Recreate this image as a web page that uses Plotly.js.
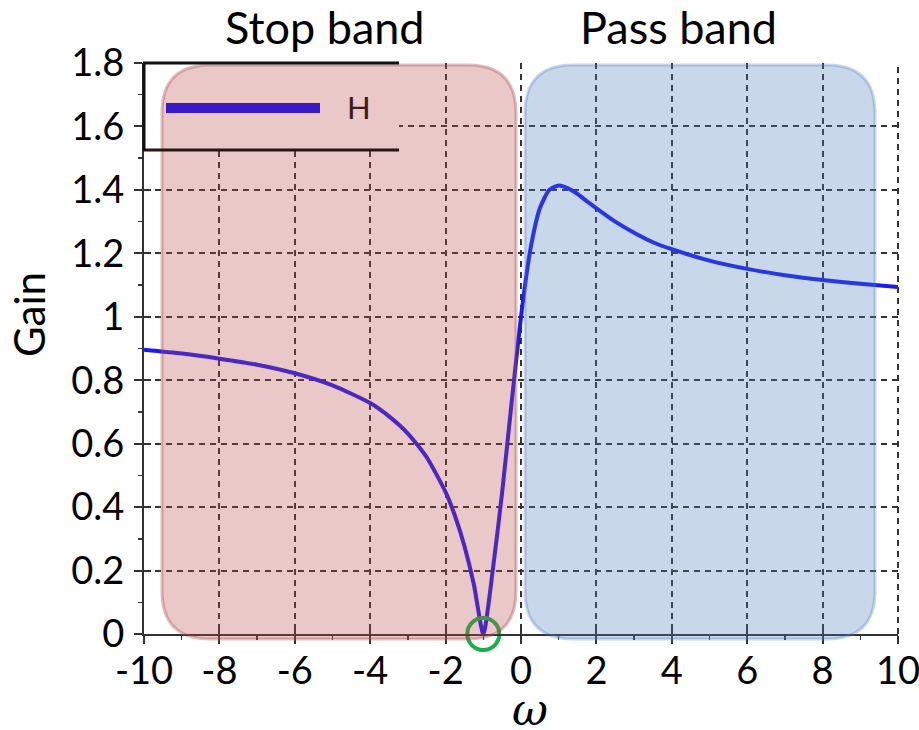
<!DOCTYPE html>
<html>
<head>
<meta charset="utf-8">
<script src="https://cdn.plot.ly/plotly-3.0.1.min.js"></script>
<style>html,body{margin:0;padding:0;background:#fff;}#chart{width:919px;height:730px;}</style>
</head>
<body>
<div id="chart"></div>
<script>
// ---- data ----
const omega = [-10, -9, -8, -7, -6, -5, -4, -3.5, -3, -2.5, -2, -1.75, -1.5, -1.25, -1,
               -0.75, -0.5, -0.25, 0, 0.25, 0.5, 0.75, 1, 1.25, 1.5, 1.75, 2, 2.5, 3,
               3.5, 4, 5, 6, 7, 8, 9, 10];
const gain  = [0.896, 0.884, 0.868, 0.849, 0.822, 0.784, 0.728, 0.686, 0.632, 0.557, 0.447,
               0.372, 0.277, 0.156, 0.0,
               0.200, 0.447, 0.728, 1.000, 1.213, 1.342, 1.400, 1.414, 1.405, 1.387, 1.364,
               1.342, 1.300, 1.265, 1.235, 1.213, 1.177, 1.151, 1.131, 1.116, 1.104, 1.094];
const notchOmega = [-1];
const notchGain = [0];
const xTickVals = [-10, -8, -6, -4, -2, 0, 2, 4, 6, 8, 10];
const xTickText = ['-10', '-8', '-6', '-4', '-2', '0', '2', '4', '6', '8', '10'];
const yTickVals = [0, 0.2, 0.4, 0.6, 0.8, 1, 1.2, 1.4, 1.6, 1.8];
const yTickText = ['0', '0.2', '0.4', '0.6', '0.8', '1', '1.2', '1.4', '1.6', '1.8'];
const bandLabels = ['Stop band', 'Pass band'];
const seriesName = 'H';

// ---- layout geometry (pixels) ----
const W = 919, H = 730;
const L = 144, R = 898, T = 63, B = 634;
const px = x => (x - L) / (R - L);
const py = y => (B - y) / (B - T);

function roundRect(x0, y0, x1, y1, r) {
  const P = (x, y) => px(x).toFixed(5) + ',' + py(y).toFixed(5);
  return 'M' + P(x0 + r, y0) + ' L' + P(x1 - r, y0) + ' Q' + P(x1, y0) + ' ' + P(x1, y0 + r) +
         ' L' + P(x1, y1 - r) + ' Q' + P(x1, y1) + ' ' + P(x1 - r, y1) +
         ' L' + P(x0 + r, y1) + ' Q' + P(x0, y1) + ' ' + P(x0, y1 - r) +
         ' L' + P(x0, y0 + r) + ' Q' + P(x0, y0) + ' ' + P(x0 + r, y0) + ' Z';
}

const gridDash = '6px,5px';
const font = 'Lato, "Open Sans", sans-serif';

const traces = [
  {x: omega, y: gain, type: 'scatter', mode: 'lines', name: seriesName,
   line: {color: '#1a1af5', width: 4, shape: 'spline', smoothing: 0.6}, showlegend: false,
   hoverinfo: 'skip'},
  {x: notchOmega, y: notchGain, type: 'scatter', mode: 'markers', showlegend: false,
   marker: {symbol: 'circle-open', size: 32, color: '#17b04a', line: {width: 4, color: '#17b04a'}},
   cliponaxis: false, hoverinfo: 'skip'},
  {x: [], y: [], xaxis: 'x2', yaxis: 'y2', type: 'scatter', showlegend: false}
];

const shapes = [
  // right-edge grid line
  {type: 'line', xref: 'paper', yref: 'paper', x0: 1, x1: 1, y0: 0, y1: 1,
   line: {color: '#333', width: 2, dash: gridDash}, layer: 'below'},
  {type: 'rect', xref: 'paper', yref: 'paper', x0: px(143), x1: px(399), y0: py(150), y1: py(63),
   fillcolor: '#ffffff', line: {width: 0}, layer: 'above'},
  {type: 'path', xref: 'paper', yref: 'paper', path: roundRect(162, 65, 516, 639, 48),
   fillcolor: 'rgba(185,72,72,0.30)', line: {color: 'rgba(170,70,70,0.35)', width: 3}, layer: 'above'},
  {type: 'path', xref: 'paper', yref: 'paper', path: roundRect(525, 65, 875, 639, 48),
   fillcolor: 'rgba(72,122,185,0.30)', line: {color: 'rgba(72,122,200,0.30)', width: 3}, layer: 'above'},
  {type: 'line', xref: 'paper', yref: 'paper', x0: px(143), x1: px(399), y0: py(63), y1: py(63),
   line: {color: '#111', width: 3}, layer: 'above'},
  {type: 'line', xref: 'paper', yref: 'paper', x0: px(143), x1: px(399), y0: py(150), y1: py(150),
   line: {color: '#2a1414', width: 3}, layer: 'above'},
  {type: 'line', xref: 'paper', yref: 'paper', x0: px(144), x1: px(144), y0: py(63), y1: py(150),
   line: {color: '#111', width: 3}, layer: 'above'},
  {type: 'line', xref: 'paper', yref: 'paper', x0: px(166), x1: px(320), y0: py(108), y1: py(108),
   line: {color: '#3a1ac8', width: 10}, layer: 'above'}
];

const annotations = [
  {text: bandLabels[0], xref: 'paper', yref: 'paper', x: px(325), y: py(27), showarrow: false,
   font: {family: font, size: 45, color: '#000'}, xanchor: 'center', yanchor: 'middle'},
  {text: bandLabels[1], xref: 'paper', yref: 'paper', x: px(678), y: py(27), showarrow: false,
   font: {family: font, size: 45, color: '#000'}, xanchor: 'center', yanchor: 'middle'},
  {text: seriesName, xref: 'paper', yref: 'paper', x: px(359), y: py(107), showarrow: false,
   font: {family: font, size: 31, color: '#3a1a1a'}, xanchor: 'center', yanchor: 'middle'},
  {text: 'Gain', xref: 'paper', yref: 'paper', x: px(29), y: py(314), showarrow: false, textangle: -90,
   font: {family: font, size: 42, color: '#000'}, xanchor: 'center', yanchor: 'middle'},
  {text: '<i>ω</i>', xref: 'paper', yref: 'paper', x: px(530), y: py(709), showarrow: false,
   font: {family: '"DejaVu Serif", serif', size: 44, color: '#000'}, xanchor: 'center', yanchor: 'middle'}
];

const axisCommon = {
  showgrid: true, gridcolor: '#333', griddash: gridDash, gridwidth: 2, zeroline: false,
  showline: true, linecolor: '#333', linewidth: 2, ticks: 'outside', ticklen: 8,
  tickwidth: 2, tickcolor: '#333', tickfont: {family: font, size: 38, color: '#000'},
  ticklabeloverflow: 'allow'
};

const layout = {
  width: W, height: H,
  margin: {l: L, r: W - R, t: T, b: H - B, autoexpand: false},
  paper_bgcolor: '#fff', plot_bgcolor: '#fff',
  showlegend: false,
  xaxis: Object.assign({}, axisCommon, {range: [-10, 10], tickvals: xTickVals, ticktext: xTickText,
          ticklabelstandoff: -6,
          minor: {dtick: 1, tick0: -10, ticks: 'outside', ticklen: 4, tickwidth: 1.5, tickcolor: '#333', showgrid: false}}),
  yaxis: Object.assign({}, axisCommon, {range: [0, 1.8], tickvals: yTickVals, ticktext: yTickText,
          ticklabelstandoff: 2,
          minor: {dtick: 0.1, tick0: 0, ticks: 'outside', ticklen: 4, tickwidth: 1.5, tickcolor: '#333', showgrid: false}}),
  xaxis2: {overlaying: 'x', matches: 'x', anchor: 'y2', side: 'bottom', range: [-10, 10],
           tickvals: xTickVals, showticklabels: false, showgrid: false, zeroline: false,
           ticks: 'inside', ticklen: 7, tickwidth: 2, tickcolor: '#333', showline: false},
  yaxis2: {overlaying: 'y', matches: 'y', anchor: 'x2', side: 'left', range: [0, 1.8],
           tickvals: yTickVals, showticklabels: false, showgrid: false, zeroline: false,
           ticks: 'inside', ticklen: 7, tickwidth: 2, tickcolor: '#333', showline: false},
  shapes: shapes,
  annotations: annotations
};

Plotly.newPlot('chart', traces, layout, {staticPlot: true, displayModeBar: false});
</script>
</body>
</html>
